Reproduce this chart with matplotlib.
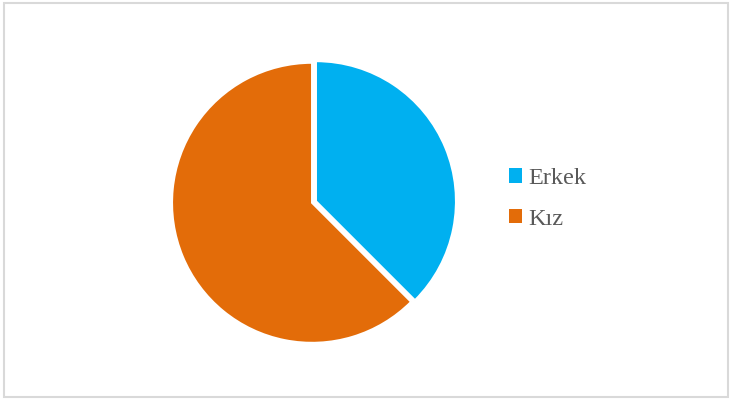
import matplotlib.pyplot as plt
from matplotlib.patches import Rectangle

labels = ["Erkek", "Kız"]
values = [37.5, 62.5]
colors = ["#00B0F0", "#E36C09"]

fig = plt.figure(figsize=(7.32, 4.0), dpi=100)
fig.patches.append(Rectangle((4 / 732, 3 / 400), 724 / 732, 394 / 400,
                             transform=fig.transFigure, fill=False,
                             edgecolor="#D9D9D9", linewidth=1.5))

# pie axes placed in pixel terms (center ~ (314, 202), radius ~ 140)
ax = fig.add_axes([(314 - 146) / 732, (400 - 202 - 146) / 400, 292 / 732, 292 / 400])
wedges, _ = ax.pie(values, colors=colors, startangle=90, counterclock=False,
                   explode=[0.015, 0.015], radius=1.0,
                   wedgeprops=dict(edgecolor="white", linewidth=1.5))
ax.set_xlim(-1.0425, 1.0425)
ax.set_ylim(-1.0425, 1.0425)
ax.set_aspect("equal")

handles = [Rectangle((0, 0), 1, 1, facecolor=c) for c in colors]
fig.legend(handles, labels, loc="center left", bbox_to_anchor=(509 / 732, 1 - 199 / 400),
           frameon=False, borderpad=0, borderaxespad=0,
           prop={"family": "Liberation Serif", "size": 17.5},
           labelcolor="#595959", handlelength=0.55, handleheight=0.55,
           handletextpad=0.25, labelspacing=0.8)

fig.savefig("out.png", dpi=100)
